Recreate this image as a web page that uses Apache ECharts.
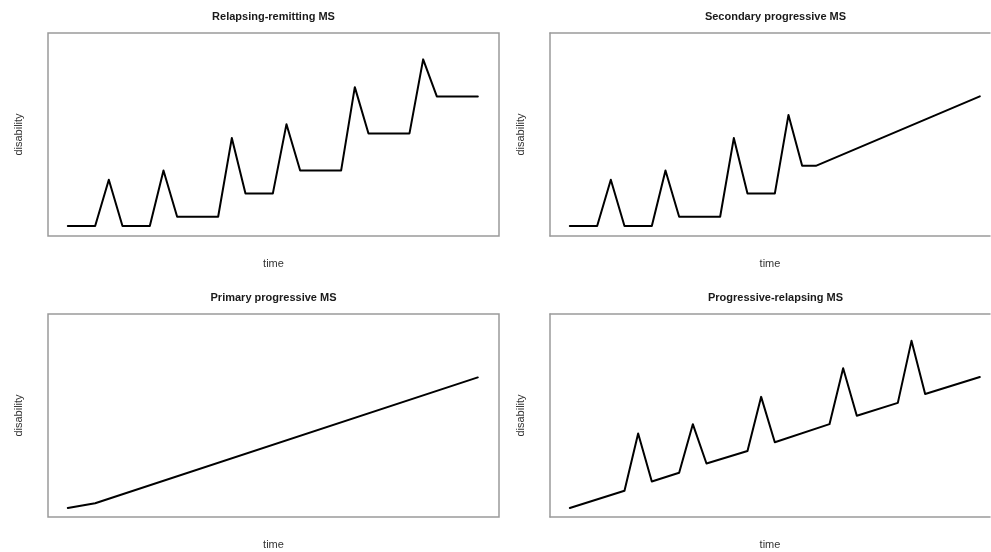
<!DOCTYPE html>
<html>
<head>
<meta charset="utf-8">
<script src="https://cdn.jsdelivr.net/npm/echarts@6/dist/echarts.min.js"></script>
<style>
html,body{margin:0;padding:0;background:#fff;}
#chart{width:991px;height:552px;}
</style>
</head>
<body>
<div id="chart"></div>
<script>
// ---- data ----
const panelTitles = ['Relapsing-remitting MS', 'Secondary progressive MS', 'Primary progressive MS', 'Progressive-relapsing MS'];
const xLabel = 'time';
const yLabel = 'disability';

const rrTime = [0, 2, 3, 4, 6, 7, 8, 11, 12, 13, 15, 16, 17, 20, 21, 22, 25, 26, 27, 30];
const rrDisability = [2, 2, 12, 2, 2, 14, 4, 4, 21, 9, 9, 24, 14, 14, 32, 22, 22, 38, 30, 30];

const spTime = [0, 2, 3, 4, 6, 7, 8, 11, 12, 13, 15, 16, 17, 18, 30];
const spDisability = [2, 2, 12, 2, 2, 14, 4, 4, 21, 9, 9, 26, 15, 15, 30];

const ppTime = [0, 2, 30];
const ppDisability = [1.8, 2.8, 30];

const prTime = [0, 4, 5, 6, 8, 9, 10, 13, 14, 15, 19, 20, 21, 24, 25, 26, 30];
const prDisability = [1.8, 5.5, 17.9, 7.5, 9.4, 19.9, 11.4, 14.1, 25.8, 16.0, 19.9, 32.0, 21.7, 24.5, 37.9, 26.4, 30.1];

const seriesTimes = [rrTime, spTime, ppTime, prTime];
const seriesValues = [rrDisability, spDisability, ppDisability, prDisability];

// ---- layout ----
const FONT = '"Liberation Sans", Arial, Helvetica, sans-serif';
const BORDER = {color: '#9a9a9a', width: 1.5};
// right-hand panels run past the page edge in the reference (cropped), so they have no right border
const panels = [
  {left: 48, top: 33, right: 492, height: 203, cx: 273.5, xmax: 31.55, cropped: false},
  {left: 550, top: 33, right: 1, height: 203, cx: 775.5, xmax: 30.745, cropped: true},
  {left: 48, top: 314, right: 492, height: 203, cx: 273.5, xmax: 31.55, cropped: false},
  {left: 550, top: 314, right: 1, height: 203, cx: 775.5, xmax: 30.745, cropped: true}
];

const hidden = {axisTick: {show: false}, axisLabel: {show: false}, splitLine: {show: false}};
const xAxes = [], yAxes = [], xIndexOf = [];
panels.forEach((p, i) => {
  xIndexOf.push(xAxes.length);
  xAxes.push(Object.assign({
    type: 'value', gridIndex: i, min: -1.45, max: p.xmax, position: 'bottom',
    name: xLabel, nameLocation: 'middle', nameGap: 22,
    nameTextStyle: {fontFamily: FONT, fontSize: 11, color: '#333'},
    axisLine: {show: p.cropped, onZero: false, lineStyle: BORDER}
  }, hidden));
  if (p.cropped) {
    xAxes.push(Object.assign({
      type: 'value', gridIndex: i, min: -1.45, max: p.xmax, position: 'top',
      axisLine: {show: true, onZero: false, lineStyle: BORDER}
    }, hidden));
  }
  yAxes.push(Object.assign({
    type: 'value', gridIndex: i, min: -0.16, max: 43.7,
    name: yLabel, nameLocation: 'middle', nameGap: 24, nameRotate: 90,
    nameTextStyle: {fontFamily: FONT, fontSize: 11, color: '#333'},
    axisLine: {show: p.cropped, onZero: false, lineStyle: BORDER}
  }, hidden));
});

const option = {
  backgroundColor: '#ffffff',
  animation: false,
  title: panels.map((p, i) => ({
    text: panelTitles[i],
    left: p.cx,
    top: p.top - 22,
    textAlign: 'center',
    padding: 0,
    textStyle: {fontFamily: FONT, fontSize: 11, fontWeight: 'bold', color: '#1a1a1a'}
  })),
  grid: panels.map(p => ({show: !p.cropped, borderColor: BORDER.color, borderWidth: BORDER.width,
    backgroundColor: 'transparent', containLabel: false,
    left: p.left, top: p.top, right: p.right, height: p.height})),
  xAxis: xAxes,
  yAxis: yAxes,
  series: seriesValues.map((vals, i) => ({
    type: 'line', xAxisIndex: xIndexOf[i], yAxisIndex: i,
    data: vals.map((v, k) => [seriesTimes[i][k], v]),
    showSymbol: false, symbol: 'none',
    lineStyle: {color: '#000', width: 2, join: 'round', cap: 'round'},
    silent: true
  }))
};

const chart = echarts.init(document.getElementById('chart'), null, {renderer: 'canvas'});
chart.setOption(option);
</script>
</body>
</html>
